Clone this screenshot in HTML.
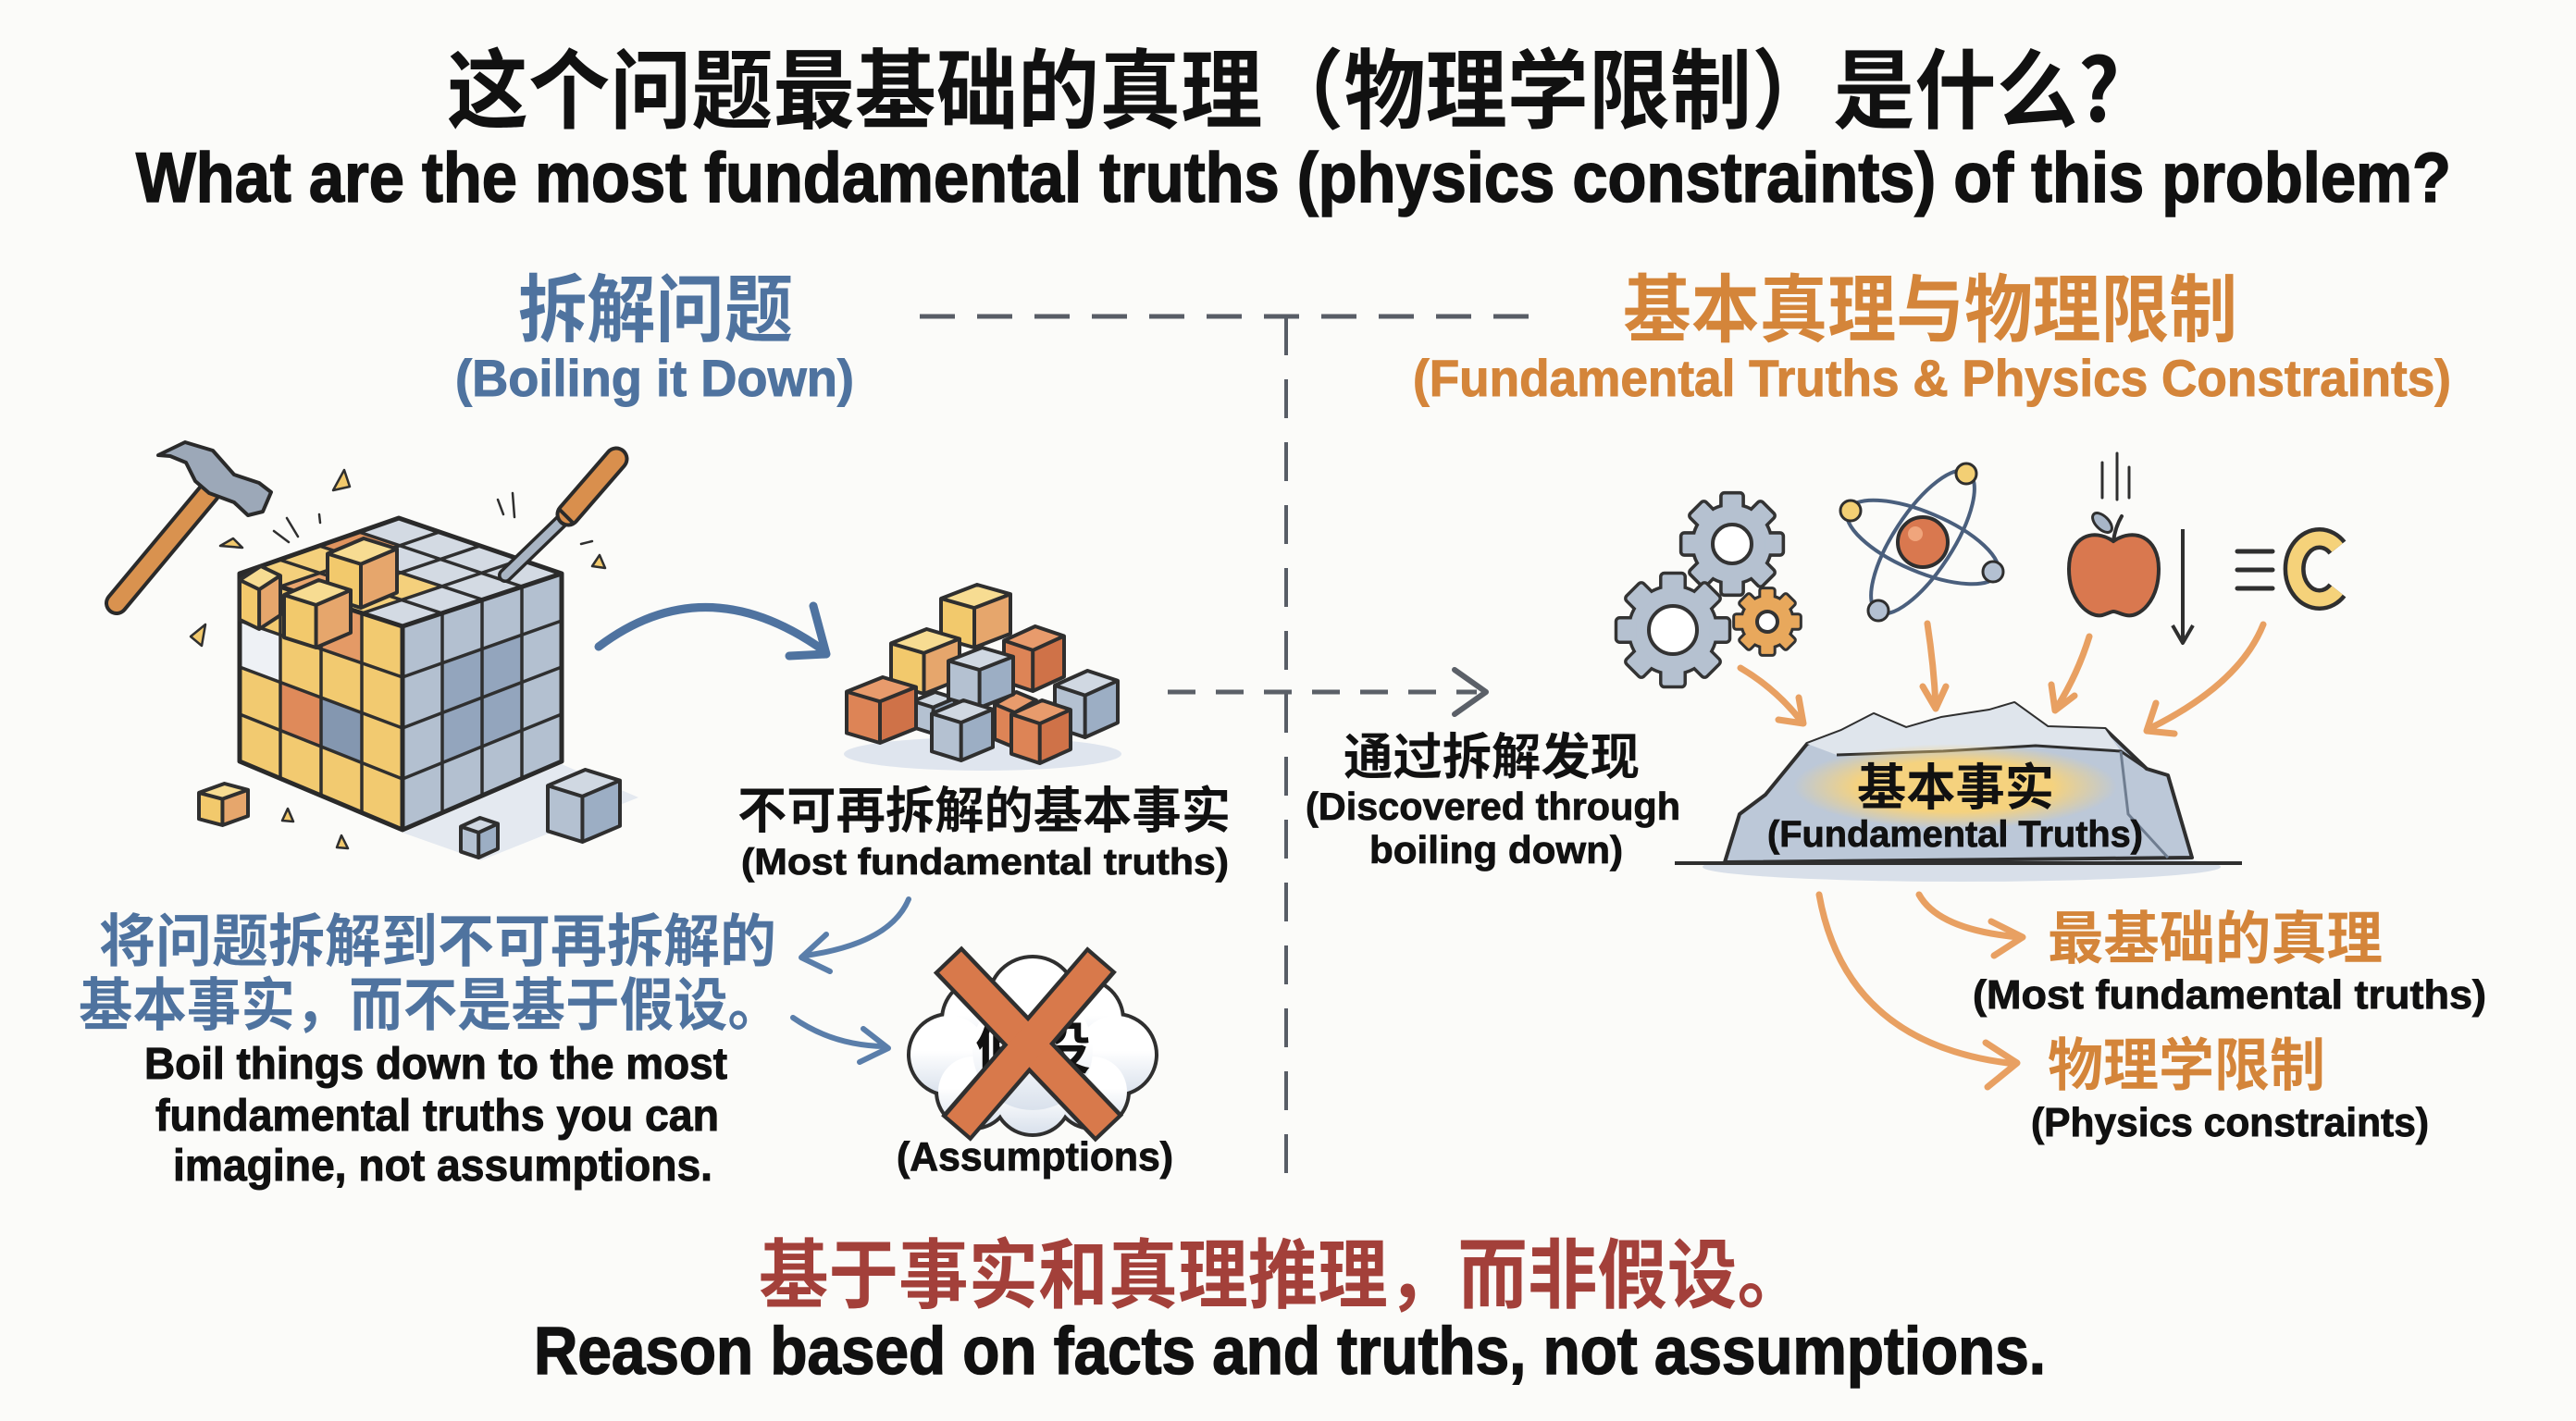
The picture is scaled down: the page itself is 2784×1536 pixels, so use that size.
<!DOCTYPE html>
<html><head><meta charset="utf-8">
<style>
html,body{margin:0;padding:0;background:#fbfbf9;}
svg{display:block}
.t{font-family:"Liberation Sans","Noto Sans CJK SC",sans-serif;font-weight:700;}
.c{font-family:"Noto Sans CJK SC","Liberation Sans",sans-serif;font-weight:700;}
</style></head>
<body>
<svg width="2784" height="1536" viewBox="0 0 2784 1536" xmlns="http://www.w3.org/2000/svg">
<defs>
  <g id="cy">
    <polygon points="0,22 48,37 48,100 0,85" fill="#f2c96c"/>
    <polygon points="48,37 100,15 100,78 48,100" fill="#e6a66c"/>
    <polygon points="0,22 52,0 100,15 48,37" fill="#f7dc92"/>
    <path d="M0,22 L52,0 L100,15 L100,78 L48,100 L0,85 Z M0,22 L48,37 L100,15 M48,37 L48,100" fill="none" stroke="#2f2f2f" stroke-width="4" vector-effect="non-scaling-stroke" stroke-linejoin="round"/>
  </g>
  <g id="co">
    <polygon points="0,22 48,37 48,100 0,85" fill="#dd8456"/>
    <polygon points="48,37 100,15 100,78 48,100" fill="#cf7248"/>
    <polygon points="0,22 52,0 100,15 48,37" fill="#e89b6c"/>
    <path d="M0,22 L52,0 L100,15 L100,78 L48,100 L0,85 Z M0,22 L48,37 L100,15 M48,37 L48,100" fill="none" stroke="#2f2f2f" stroke-width="4" vector-effect="non-scaling-stroke" stroke-linejoin="round"/>
  </g>
  <g id="cg">
    <polygon points="0,22 48,37 48,100 0,85" fill="#b4c1d1"/>
    <polygon points="48,37 100,15 100,78 48,100" fill="#9caec4"/>
    <polygon points="0,22 52,0 100,15 48,37" fill="#d0d8e2"/>
    <path d="M0,22 L52,0 L100,15 L100,78 L48,100 L0,85 Z M0,22 L48,37 L100,15 M48,37 L48,100" fill="none" stroke="#2f2f2f" stroke-width="4" vector-effect="non-scaling-stroke" stroke-linejoin="round"/>
  </g>
  <g id="gear">
    <circle r="40"/>
    <rect x="-10" y="-52" width="20" height="18" rx="2"/>
    <rect x="-10" y="-52" width="20" height="18" rx="2" transform="rotate(45)"/>
    <rect x="-10" y="-52" width="20" height="18" rx="2" transform="rotate(90)"/>
    <rect x="-10" y="-52" width="20" height="18" rx="2" transform="rotate(135)"/>
    <rect x="-10" y="-52" width="20" height="18" rx="2" transform="rotate(180)"/>
    <rect x="-10" y="-52" width="20" height="18" rx="2" transform="rotate(225)"/>
    <rect x="-10" y="-52" width="20" height="18" rx="2" transform="rotate(270)"/>
    <rect x="-10" y="-52" width="20" height="18" rx="2" transform="rotate(315)"/>
  </g>
  <g id="cloud">
    <circle cx="1116" cy="1082" r="46"/>
    <circle cx="1062" cy="1102" r="42"/>
    <circle cx="1170" cy="1102" r="42"/>
    <circle cx="1026" cy="1140" r="42"/>
    <circle cx="1206" cy="1140" r="42"/>
    <circle cx="1052" cy="1180" r="38"/>
    <circle cx="1180" cy="1180" r="38"/>
    <circle cx="1116" cy="1185" r="40"/>
    <circle cx="1116" cy="1135" r="65"/>
  </g>
  <linearGradient id="cloudG" x1="0" y1="0" x2="0" y2="1">
    <stop offset="0.45" stop-color="#ffffff"/>
    <stop offset="1" stop-color="#d9e1ec"/>
  </linearGradient>
  <radialGradient id="glow" cx="0.5" cy="0.5" r="0.5">
    <stop offset="0.6" stop-color="#f5d27e"/>
    <stop offset="1" stop-color="#f5d27e" stop-opacity="0"/>
  </radialGradient>
</defs>

<rect width="2784" height="1536" fill="#fbfbf9"/>

<!-- Titles -->
<text class="c" x="483" y="131" font-size="94" font-weight="900" fill="#111" textLength="1808" lengthAdjust="spacingAndGlyphs">这个问题最基础的真理（物理学限制）是什么?</text>
<text class="t" x="147" y="218" font-size="76" fill="#111" stroke="#111" stroke-width="1.6" textLength="2502" lengthAdjust="spacingAndGlyphs">What are the most fundamental truths (physics constraints) of this problem?</text>

<!-- Section headers -->
<text class="c" x="560" y="363" font-size="80" fill="#4f739f" textLength="297" lengthAdjust="spacingAndGlyphs">拆解问题</text>
<text class="t" x="492" y="428" font-size="56" fill="#4f739f" stroke="#4f739f" stroke-width="1" textLength="431" lengthAdjust="spacingAndGlyphs">(Boiling it Down)</text>
<text class="c" x="1754" y="363" font-size="80" fill="#d4853a" textLength="664" lengthAdjust="spacingAndGlyphs">基本真理与物理限制</text>
<text class="t" x="1527" y="428" font-size="56" fill="#d4853a" stroke="#d4853a" stroke-width="1" textLength="1122" lengthAdjust="spacingAndGlyphs">(Fundamental Truths &amp; Physics Constraints)</text>

<!-- dashed divider -->
<line x1="994" y1="342" x2="1669" y2="342" stroke="#585d66" stroke-width="5" stroke-dasharray="38 24"/>
<line x1="1390" y1="342" x2="1390" y2="1272" stroke="#585d66" stroke-width="4" stroke-dasharray="42 26"/>

<!-- ===== Main cube ===== -->
<polygon points="435,900 607,826 690,862 520,930" fill="#dfe5ee" opacity="0.8"/>
<polygon points="259,620 435,677 435,897 259,823" fill="#f2ca70"/>
<polygon points="435,677 607,620 607,823 435,897" fill="#b3c0d0"/>
<polygon points="259,620 431,560 607,620 435,677" fill="#d3dae3"/>
<polygon points="259,620 391,663 477,634 345,590" fill="#f4d07c"/>
<polygon points="345,590 389,605 432,590 388,575" fill="#e0935e"/>
<polygon points="303,634 347,648 390,634 345,620" fill="#e9a56e"/>
<polygon points="303,738 347,754 347,807 303,790" fill="#df8a5a"/>
<polygon points="347,754 391,771 391,825 347,807" fill="#8497b0"/>
<polygon points="259,671 303,685 303,738 259,722" fill="#eef1f5"/>
<polygon points="347,648 391,663 391,717 347,702" fill="#e49a66"/>
<polygon points="478,717 564,686 564,790 478,825" fill="#93a5bd"/>
<g stroke="#2f2f2f" stroke-width="3.5" fill="none" stroke-linecap="round">
  <line x1="303" y1="634" x2="303" y2="841"/>
  <line x1="347" y1="648" x2="347" y2="860"/>
  <line x1="391" y1="663" x2="391" y2="878"/>
  <line x1="259" y1="671" x2="435" y2="732"/>
  <line x1="259" y1="721" x2="435" y2="787"/>
  <line x1="259" y1="772" x2="435" y2="842"/>
  <line x1="478" y1="663" x2="478" y2="878"/>
  <line x1="521" y1="648" x2="521" y2="860"/>
  <line x1="564" y1="634" x2="564" y2="841"/>
  <line x1="435" y1="732" x2="607" y2="671"/>
  <line x1="435" y1="787" x2="607" y2="721"/>
  <line x1="435" y1="842" x2="607" y2="772"/>
  <line x1="303" y1="634" x2="475" y2="575"/>
  <line x1="347" y1="648" x2="519" y2="590"/>
  <line x1="391" y1="663" x2="563" y2="605"/>
  <line x1="302" y1="605" x2="478" y2="663"/>
  <line x1="345" y1="590" x2="521" y2="648"/>
  <line x1="388" y1="575" x2="564" y2="634"/>
</g>
<path d="M259,620 L431,560 L607,620 L607,823 L435,897 L259,823 Z M259,620 L435,677 L607,620 M435,677 L435,897" fill="none" stroke="#2a2a2a" stroke-width="5" stroke-linejoin="round"/>
<!-- broken yellow/orange blocks on top-left -->
<use href="#cy" transform="translate(354,582) scale(0.75,0.75)"/>
<use href="#cy" transform="translate(259,612) scale(0.44,0.68)"/>
<use href="#cy" transform="translate(307,627) scale(0.72,0.73)"/>

<!-- small cubes near main cube -->
<use href="#cy" transform="translate(215,847) scale(0.53,0.45)"/>
<use href="#cg" transform="translate(592,832) scale(0.78,0.78)"/>
<use href="#cg" transform="translate(498,884) scale(0.40,0.43)"/>
<g fill="#f2c96c" stroke="#2f2f2f" stroke-width="2.5" stroke-linejoin="round">
  <polygon points="360,530 372,508 378,526"/>
  <polygon points="238,590 252,582 262,592"/>
  <polygon points="206,688 222,675 218,698"/>
  <polygon points="640,612 648,600 654,614"/>
  <polygon points="305,887 311,874 317,888"/>
  <polygon points="364,916 369,903 376,917"/>
</g>
<g stroke="#2f2f2f" stroke-width="2.5" stroke-linecap="round">
  <line x1="296" y1="574" x2="312" y2="586"/>
  <line x1="310" y1="560" x2="322" y2="580"/>
  <line x1="345" y1="556" x2="346" y2="565"/>
  <line x1="538" y1="540" x2="544" y2="556"/>
  <line x1="554" y1="533" x2="556" y2="559"/>
  <line x1="628" y1="588" x2="640" y2="585"/>
</g>

<!-- hammer -->
<line x1="126" y1="652" x2="226" y2="532" stroke="#2a2a2a" stroke-width="26" stroke-linecap="round"/>
<line x1="126" y1="652" x2="226" y2="532" stroke="#d9924f" stroke-width="18" stroke-linecap="round"/>
<polygon points="171,492 200,478 230,487 253,513 280,522 293,532 284,553 268,557 253,543 226,533 211,520 201,500 184,493" fill="#9ca8b8" stroke="#2a2a2a" stroke-width="4" stroke-linejoin="round"/>

<!-- chisel -->
<line x1="608" y1="562" x2="546" y2="622" stroke="#2a2a2a" stroke-width="16" stroke-linecap="round"/>
<line x1="608" y1="562" x2="546" y2="622" stroke="#a9b5c4" stroke-width="9" stroke-linecap="round"/>
<line x1="666" y1="496" x2="614" y2="556" stroke="#2a2a2a" stroke-width="27" stroke-linecap="round"/>
<line x1="666" y1="496" x2="614" y2="556" stroke="#d98f4d" stroke-width="19" stroke-linecap="round"/>
<line x1="604" y1="550" x2="620" y2="566" stroke="#2a2a2a" stroke-width="4"/>

<!-- big blue arrow to pile -->
<path d="M647,699 Q762,612 890,703" fill="none" stroke="#4f73a0" stroke-width="9" stroke-linecap="round"/>
<polyline points="879,655 893,707 853,709" fill="none" stroke="#4f73a0" stroke-width="9" stroke-linecap="round" stroke-linejoin="round"/>

<!-- small cube pile -->
<ellipse cx="1062" cy="815" rx="150" ry="18" fill="#dfe5ee"/>
<use href="#cy" transform="translate(1017,632) scale(0.75,0.68)"/>
<use href="#cy" transform="translate(963,680) scale(0.74,0.70)"/>
<use href="#co" transform="translate(1085,677) scale(0.65,0.70)"/>
<use href="#cg" transform="translate(987,748) scale(0.45,0.45)"/>
<use href="#co" transform="translate(1075,748) scale(0.45,0.60)"/>
<use href="#cg" transform="translate(1025,700) scale(0.70,0.65)"/>
<use href="#cg" transform="translate(1140,725) scale(0.68,0.72)"/>
<use href="#co" transform="translate(915,732) scale(0.75,0.71)"/>
<use href="#cg" transform="translate(1007,757) scale(0.66,0.65)"/>
<use href="#co" transform="translate(1093,757) scale(0.64,0.68)"/>

<text class="c" x="797" y="895" font-size="54" fill="#111" textLength="533" lengthAdjust="spacingAndGlyphs">不可再拆解的基本事实</text>
<text class="t" x="801" y="945" font-size="40" fill="#111" stroke="#111" stroke-width="0.8" textLength="527" lengthAdjust="spacingAndGlyphs">(Most fundamental truths)</text>

<!-- dashed arrow -->
<line x1="1262" y1="748" x2="1596" y2="748" stroke="#5b6068" stroke-width="5" stroke-dasharray="30 22"/>
<polyline points="1572,724 1606,748 1572,772" fill="none" stroke="#5b6068" stroke-width="6" stroke-linecap="round" stroke-linejoin="round"/>

<text class="c" x="1452" y="837" font-size="54" fill="#111" textLength="320" lengthAdjust="spacingAndGlyphs">通过拆解发现</text>
<text class="t" x="1411" y="886" font-size="42" fill="#111" stroke="#111" stroke-width="0.8" textLength="405" lengthAdjust="spacingAndGlyphs">(Discovered through</text>
<text class="t" x="1480" y="933" font-size="42" fill="#111" stroke="#111" stroke-width="0.8" textLength="274" lengthAdjust="spacingAndGlyphs">boiling down)</text>

<!-- gears -->
<use href="#gear" transform="translate(1872,588) scale(1.03)" fill="#333" stroke="#333" stroke-width="7"/>
<use href="#gear" transform="translate(1872,588) scale(1.03)" fill="#b5c1d0"/>
<circle cx="1872" cy="588" r="21" fill="#fff" stroke="#333" stroke-width="4"/>
<use href="#gear" transform="translate(1808,681) scale(1.15)" fill="#333" stroke="#333" stroke-width="6"/>
<use href="#gear" transform="translate(1808,681) scale(1.15)" fill="#b5c1d0"/>
<circle cx="1808" cy="681" r="26" fill="#fff" stroke="#333" stroke-width="4"/>
<use href="#gear" transform="translate(1910,672) scale(0.67)" fill="#333" stroke="#333" stroke-width="9"/>
<use href="#gear" transform="translate(1910,672) scale(0.67)" fill="#e8a85c"/>
<circle cx="1910" cy="672" r="11" fill="#fff" stroke="#333" stroke-width="4"/>

<!-- atom -->
<ellipse cx="2078" cy="586" rx="90" ry="32" transform="rotate(123 2078 586)" fill="none" stroke="#4a5f7d" stroke-width="4"/>
<ellipse cx="2078" cy="586" rx="88" ry="32" transform="rotate(23 2078 586)" fill="none" stroke="#4a5f7d" stroke-width="4"/>
<circle cx="2078" cy="586" r="27" fill="#d9784f" stroke="#2f2f2f" stroke-width="4"/>
<circle cx="2070" cy="577" r="8" fill="#f0a57c"/>
<circle cx="2125" cy="512" r="11" fill="#f3cf74" stroke="#2f2f2f" stroke-width="3"/>
<circle cx="2000" cy="552" r="11" fill="#f3cf74" stroke="#2f2f2f" stroke-width="3"/>
<circle cx="2154" cy="618" r="11" fill="#b3c0d1" stroke="#2f2f2f" stroke-width="3"/>
<circle cx="2030" cy="660" r="11" fill="#b3c0d1" stroke="#2f2f2f" stroke-width="3"/>

<!-- apple -->
<g stroke="#2f2f2f" stroke-width="3" stroke-linecap="round">
  <line x1="2272" y1="500" x2="2272" y2="538"/>
  <line x1="2288" y1="490" x2="2288" y2="540"/>
  <line x1="2301" y1="505" x2="2301" y2="538"/>
</g>
<path d="M2284,585 C2262,570 2236,580 2236,615 C2236,650 2258,668 2272,665 C2278,663 2282,661 2284,661 C2288,661 2292,664 2298,665 C2312,668 2333,650 2333,615 C2333,580 2306,570 2284,585 Z" fill="#d9784f" stroke="#2f2f2f" stroke-width="4"/>
<path d="M2284,585 Q2286,570 2293,558" fill="none" stroke="#2f2f2f" stroke-width="4" stroke-linecap="round"/>
<ellipse cx="2272" cy="565" rx="13" ry="7" transform="rotate(45 2272 565)" fill="#a8b6c8" stroke="#2f2f2f" stroke-width="3"/>
<line x1="2359" y1="572" x2="2359" y2="693" stroke="#2f2f2f" stroke-width="4"/>
<polyline points="2348,676 2359,695 2370,676" fill="none" stroke="#2f2f2f" stroke-width="4" stroke-linejoin="round"/>
<g stroke="#2f2f2f" stroke-width="5" stroke-linecap="round">
  <line x1="2418" y1="596" x2="2456" y2="596"/>
  <line x1="2418" y1="616" x2="2456" y2="616"/>
  <line x1="2418" y1="636" x2="2456" y2="636"/>
</g>
<path d="M2526,592 A27,33 0 1 0 2526,638" fill="none" stroke="#2f2f2f" stroke-width="24"/>
<path d="M2526,592 A27,33 0 1 0 2526,638" fill="none" stroke="#f5d27a" stroke-width="15"/>

<!-- orange arrows into rock -->
<g fill="none" stroke="#e8a062" stroke-width="7" stroke-linecap="round" stroke-linejoin="round">
  <path d="M1881,722 Q1920,745 1947,780"/>
  <polyline points="1922,778 1949,782 1944,754"/>
  <path d="M2083,674 Q2090,720 2092,763"/>
  <polyline points="2078,742 2092,766 2103,742"/>
  <path d="M2258,688 Q2245,730 2222,766"/>
  <polyline points="2217,740 2221,768 2242,752"/>
  <path d="M2446,675 Q2420,740 2322,788"/>
  <polyline points="2330,760 2320,790 2350,793"/>
</g>

<!-- rock -->
<ellipse cx="2120" cy="937" rx="280" ry="16" fill="#d8dfe9"/>
<polygon points="1864,932 1880,880 1908,859 1953,804 1990,790 2025,772 2060,787 2098,776 2150,768 2177,760 2213,786 2275,788 2320,831 2343,838 2369,927" fill="#bcc8d8" stroke="#2f2f2f" stroke-width="4" stroke-linejoin="round"/>
<polygon points="1953,804 1990,790 2025,772 2060,787 2098,776 2150,768 2177,760 2213,786 2275,788 2292,812 2200,806 2100,812 1985,816" fill="#dfe5ec"/>
<polyline points="1985,816 2100,812 2200,806 2292,812 2320,831" fill="none" stroke="#2f2f2f" stroke-width="3"/>
<polyline points="2292,812 2300,880 2343,927" fill="none" stroke="#6f7d90" stroke-width="3"/>
<ellipse cx="2113" cy="850" rx="175" ry="46" fill="url(#glow)"/>
<line x1="1810" y1="933" x2="2423" y2="933" stroke="#2f2f2f" stroke-width="4"/>
<text class="c" x="2007" y="870" font-size="54" fill="#111" textLength="213" lengthAdjust="spacingAndGlyphs">基本事实</text>
<text class="t" x="1910" y="915" font-size="40" fill="#111" stroke="#111" stroke-width="0.8" textLength="406" lengthAdjust="spacingAndGlyphs">(Fundamental Truths)</text>

<!-- left bottom blue text -->
<text class="c" x="107" y="1039" font-size="62" fill="#4f739f" textLength="732" lengthAdjust="spacingAndGlyphs">将问题拆解到不可再拆解的</text>
<text class="c" x="85" y="1108" font-size="62" fill="#4f739f" textLength="760" lengthAdjust="spacingAndGlyphs">基本事实，而不是基于假设。</text>
<text class="t" x="156" y="1166" font-size="48" fill="#111" stroke="#111" stroke-width="1" textLength="630" lengthAdjust="spacingAndGlyphs">Boil things down to the most</text>
<text class="t" x="168" y="1222" font-size="48" fill="#111" stroke="#111" stroke-width="1" textLength="609" lengthAdjust="spacingAndGlyphs">fundamental truths you can</text>
<text class="t" x="187" y="1276" font-size="48" fill="#111" stroke="#111" stroke-width="1" textLength="583" lengthAdjust="spacingAndGlyphs">imagine, not assumptions.</text>

<g fill="none" stroke="#5a7eaa" stroke-width="6" stroke-linecap="round" stroke-linejoin="round">
  <path d="M982,972 Q962,1020 870,1033"/>
  <polyline points="893,1010 866,1035 897,1050"/>
  <path d="M857,1100 Q900,1130 956,1131"/>
  <polyline points="933,1112 960,1133 929,1148"/>
</g>

<!-- cloud with X -->
<use href="#cloud" fill="#2f2f2f" stroke="#2f2f2f" stroke-width="8"/>
<use href="#cloud" fill="url(#cloudG)"/>
<text class="c" x="1054" y="1155" font-size="60" fill="#111" textLength="125" lengthAdjust="spacingAndGlyphs">假设</text>
<line x1="1024" y1="1037" x2="1199" y2="1220" stroke="#2f2f2f" stroke-width="42"/>
<line x1="1191" y1="1037" x2="1033" y2="1220" stroke="#2f2f2f" stroke-width="42"/>
<line x1="1027" y1="1040" x2="1196" y2="1217" stroke="#d8794b" stroke-width="33"/>
<line x1="1188" y1="1040" x2="1036" y2="1217" stroke="#d8794b" stroke-width="33"/>
<text class="t" x="969" y="1265" font-size="44" fill="#111" stroke="#111" stroke-width="0.9" textLength="299" lengthAdjust="spacingAndGlyphs">(Assumptions)</text>

<!-- right bottom -->
<g fill="none" stroke="#e8a062" stroke-width="7" stroke-linecap="round" stroke-linejoin="round">
  <path d="M2074,967 Q2095,1005 2182,1013"/>
  <polyline points="2152,996 2186,1013 2155,1033"/>
  <path d="M1966,967 Q1995,1130 2178,1150"/>
  <polyline points="2146,1127 2180,1149 2148,1175"/>
</g>
<text class="c" x="2213" y="1036" font-size="62" fill="#d4853a" textLength="362" lengthAdjust="spacingAndGlyphs">最基础的真理</text>
<text class="t" x="2132" y="1090" font-size="44" fill="#111" stroke="#111" stroke-width="0.9" textLength="555" lengthAdjust="spacingAndGlyphs">(Most fundamental truths)</text>
<text class="c" x="2213" y="1173" font-size="62" fill="#d4853a" textLength="300" lengthAdjust="spacingAndGlyphs">物理学限制</text>
<text class="t" x="2195" y="1228" font-size="44" fill="#111" stroke="#111" stroke-width="0.9" textLength="430" lengthAdjust="spacingAndGlyphs">(Physics constraints)</text>

<!-- bottom conclusion -->
<text class="c" x="820" y="1407" font-size="82" fill="#a3403a" textLength="1133" lengthAdjust="spacingAndGlyphs">基于事实和真理推理，而非假设。</text>
<text class="t" x="577" y="1485" font-size="72" fill="#111" stroke="#111" stroke-width="1.5" textLength="1634" lengthAdjust="spacingAndGlyphs">Reason based on facts and truths, not assumptions.</text>
</svg>
</body></html>
